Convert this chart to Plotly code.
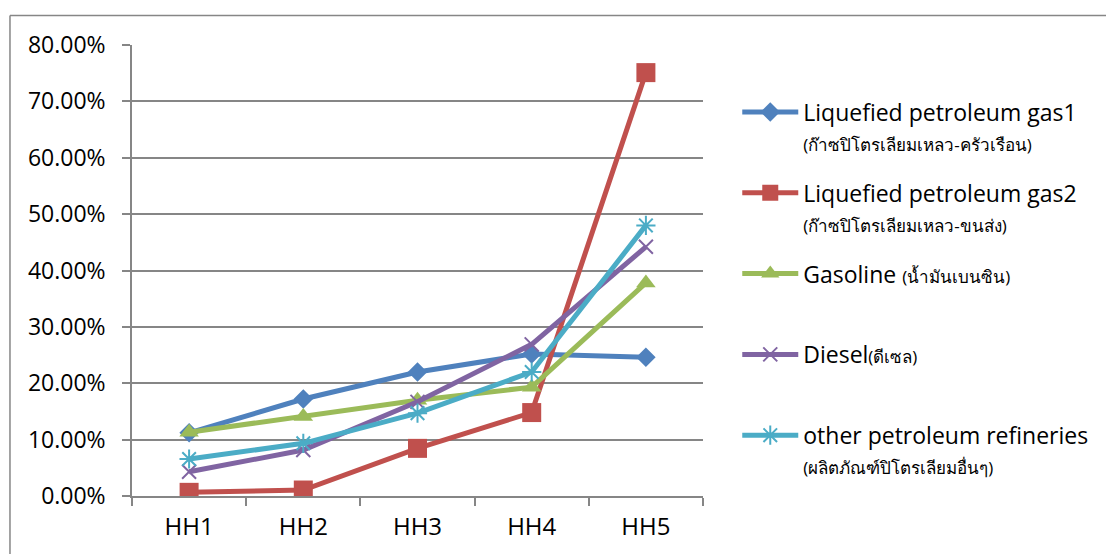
import plotly.graph_objects as go

# Household groups and shares of each fuel type
categories = ["HH1", "HH2", "HH3", "HH4", "HH5"]

lpg_household = [0.112, 0.172, 0.220, 0.252, 0.246]
lpg_transport = [0.0065, 0.0106, 0.0845, 0.148, 0.751]
gasoline = [0.113, 0.141, 0.170, 0.193, 0.378]
diesel = [0.043, 0.0815, 0.167, 0.269, 0.442]
other_refineries = [0.0656, 0.0934, 0.147, 0.220, 0.480]

y_ticks = [0.0, 0.1, 0.2, 0.3, 0.4, 0.5, 0.6, 0.7, 0.8]

TH = "<span style='font-size:17px'>{}</span>"

series = [
    dict(name="Liquefied petroleum gas1<br>" + TH.format("(ก๊าซปิโตรเลียมเหลว-ครัวเรือน)"),
         y=lpg_household, color="#4F81BD", symbol="diamond", size=15, open_=False),
    dict(name="Liquefied petroleum gas2<br>" + TH.format("(ก๊าซปิโตรเลียมเหลว-ขนส่ง)"),
         y=lpg_transport, color="#C0504D", symbol="square", size=19, open_=False),
    dict(name="Gasoline " + TH.format("(น้ำมันเบนซิน)") + "<br> ",
         y=gasoline, color="#9BBB59", symbol="triangle-up", size=17, open_=False),
    dict(name="Diesel" + TH.format("(ดีเซล)") + "<br> ",
         y=diesel, color="#8064A2", symbol="x-thin-open", size=14, open_=True),
    dict(name="other petroleum refineries<br>" + TH.format("(ผลิตภัณฑ์ปิโตรเลียมอื่นๆ)"),
         y=other_refineries, color="#4BACC6", symbol="asterisk-open", size=16, open_=True),
]

fig = go.Figure()
for i, s in enumerate(series):
    marker = dict(symbol=s["symbol"], size=s["size"], color=s["color"])
    if s["open_"]:
        marker["line"] = dict(color=s["color"], width=2)
    else:
        marker["line"] = dict(width=0)
    fig.add_trace(go.Scatter(
        x=categories, y=s["y"], name=s["name"], mode="lines+markers",
        line=dict(color=s["color"], width=5),
        marker=marker, legendgroup=f"g{i}",
    ))

grid_color = "#868686"
fig.update_layout(
    width=1106, height=554,
    margin=dict(l=132, r=403, t=45, b=58),
    paper_bgcolor="white", plot_bgcolor="white",
    font=dict(family="Open Sans, Noto Sans, sans-serif", color="#000000"),
    showlegend=True,
    legend=dict(
        x=1.06, xanchor="left", y=0.899, yanchor="top",
        font=dict(size=23, color="#000000"),
        valign="top", itemwidth=56, tracegroupgap=18,
        bgcolor="rgba(0,0,0,0)",
    ),
    xaxis=dict(
        type="category", range=[-0.5, 4.5],
        showgrid=False, showline=True, linecolor=grid_color, linewidth=1.5,
        ticks="outside", tickson="boundaries", ticklen=8, tickcolor=grid_color,
        tickwidth=1.5, tickfont=dict(size=24), ticklabelstandoff=8,
        zeroline=False, fixedrange=True,
    ),
    yaxis=dict(
        range=[0, 0.8], tickvals=y_ticks, tickformat=".2%",
        showgrid=True, gridcolor=grid_color, gridwidth=1.5,
        showline=True, linecolor=grid_color, linewidth=1.5,
        ticks="outside", ticklen=8, tickcolor=grid_color, tickwidth=1.5,
        tickfont=dict(size=23), ticklabelstandoff=12,
        zeroline=False, fixedrange=True,
    ),
    shapes=[
        # chart frame (top and left edges)
        dict(type="line", xref="paper", yref="paper",
             x0=-0.2137, x1=1.75, y0=1.0654, y1=1.0654,
             line=dict(color=grid_color, width=1.5)),
        dict(type="line", xref="paper", yref="paper",
             x0=-0.2137, x1=-0.2137, y0=1.0654, y1=-0.2,
             line=dict(color=grid_color, width=1.5)),
    ],
)

fig.write_html("out.html")
